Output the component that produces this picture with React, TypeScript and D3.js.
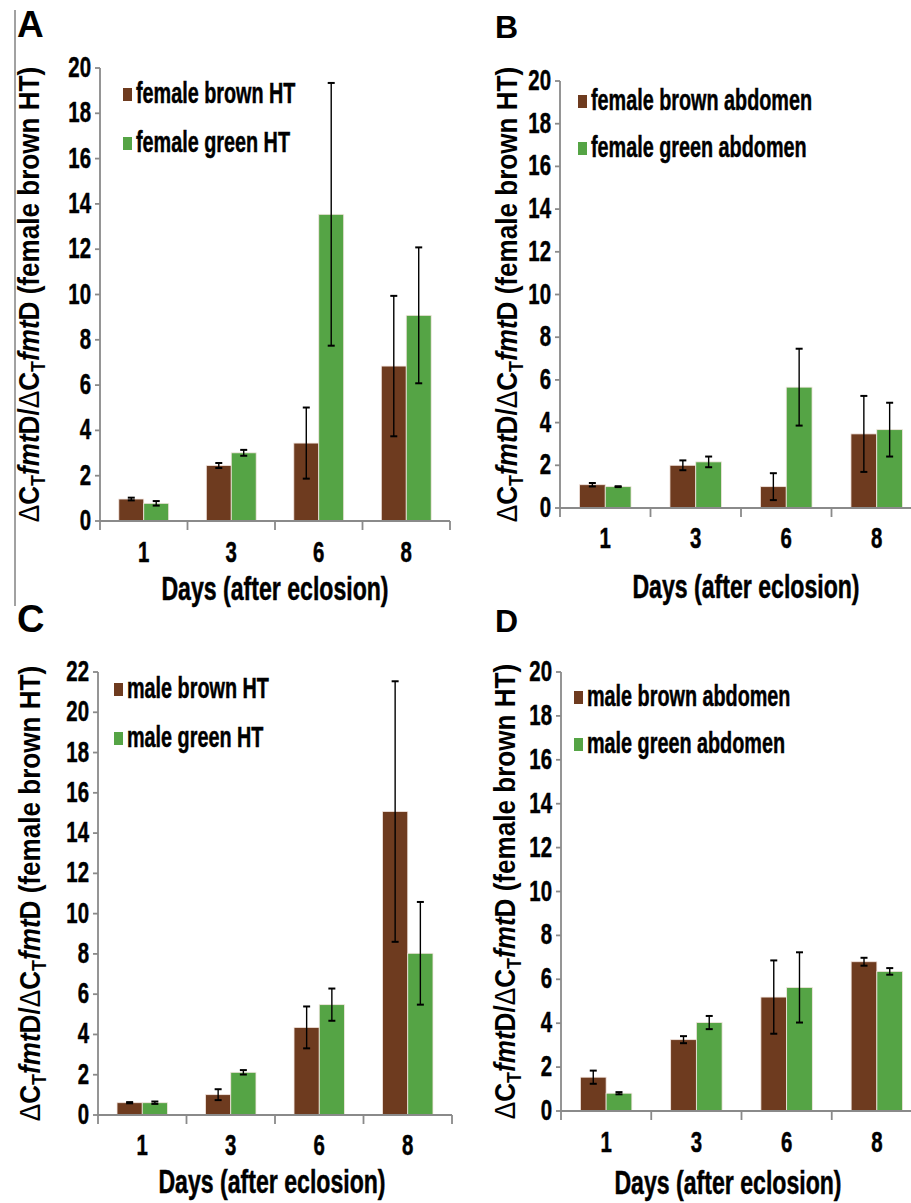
import * as d3 from "d3";

const days = ["1", "3", "6", "8"];
const pair = ["brown", "green"];

// A: female head+thorax
const femaleHtBrown = [0.97, 2.45, 3.44, 6.84];
const femaleHtBrownErr = [0.06, 0.11, 1.57, 3.1];
const femaleHtGreen = [0.78, 3.01, 13.54, 9.08];
const femaleHtGreenErr = [0.1, 0.13, 5.8, 3.0];

// B: female abdomen
const femaleAbBrown = [1.09, 2.0, 1.0, 3.47];
const femaleAbBrownErr = [0.08, 0.23, 0.63, 1.78];
const femaleAbGreen = [1.0, 2.16, 5.66, 3.67];
const femaleAbGreenErr = [0.02, 0.25, 1.8, 1.26];

// C: male head+thorax
const maleHtBrown = [0.61, 1.01, 4.35, 15.07];
const maleHtBrownErr = [0.03, 0.27, 1.04, 6.47];
const maleHtGreen = [0.61, 2.12, 5.48, 8.03];
const maleHtGreenErr = [0.06, 0.11, 0.8, 2.55];

// D: male abdomen
const maleAbBrown = [1.54, 3.25, 5.19, 6.8];
const maleAbBrownErr = [0.3, 0.16, 1.67, 0.18];
const maleAbGreen = [0.81, 4.03, 5.63, 6.36];
const maleAbGreenErr = [0.05, 0.3, 1.6, 0.15];

const BROWN = "#6e3b1f";
const GREEN = "#55a445";
const AXIS = "#8a8a8a";
const FONT = "'Liberation Sans', Arial, Helvetica, sans-serif";

// condensed bold text (the figure uses a narrow bold face)
function NText({ x, y, size, sx, anchor = "start", children }: any) {
  return (
    <text
      transform={`translate(${x},${y}) scale(${sx},1)`}
      fontSize={size}
      fontWeight="bold"
      fontFamily={FONT}
      textAnchor={anchor}
      fill="#000"
      stroke="#000"
      strokeWidth={0.5}
    >
      {children}
    </text>
  );
}

function Panel(p: any) {
  const x = d3.scaleBand().domain(days).range([p.left, p.right]);
  const bw = x.bandwidth();
  const sub = d3.scaleBand().domain(pair).range([bw * 0.215, bw * 0.785]);
  const y = d3.scaleLinear().domain([0, p.yMax]).range([p.bottom, p.top]);
  const yTicks = d3.range(0, p.yMax + 1, 2);
  const series = [
    { key: "brown", color: BROWN, vals: p.brown, errs: p.brownErr, label: p.labels[0] },
    { key: "green", color: GREEN, vals: p.green, errs: p.greenErr, label: p.labels[1] },
  ];
  const bounds = [...days.map((d) => x(d) as number), p.right];

  return (
    <g>
      <text x={p.letterX} y={p.letterY} fontSize={p.letterSize} fontWeight="bold" fontFamily={FONT}>
        {p.letter}
      </text>

      {/* bars */}
      {series.map((s) =>
        days.map((d, i) => {
          const bx = (x(d) as number) + (sub(s.key) as number);
          return (
            <rect
              key={s.key + d}
              x={bx}
              y={y(s.vals[i])}
              width={sub.bandwidth()}
              height={y(0) - y(s.vals[i])}
              fill={s.color}
              stroke="#f3e6e0"
              strokeWidth={0.8}
            />
          );
        })
      )}

      {/* error bars */}
      {series.map((s) =>
        days.map((d, i) => {
          const cx = (x(d) as number) + (sub(s.key) as number) + sub.bandwidth() / 2;
          const hi = y(s.vals[i] + s.errs[i]);
          const lo = y(Math.max(0, s.vals[i] - s.errs[i]));
          return (
            <g key={"e" + s.key + d} stroke="#000">
              <line x1={cx} x2={cx} y1={hi} y2={lo} strokeWidth={1.4} />
              <line x1={cx - 3.5} x2={cx + 3.5} y1={hi} y2={hi} strokeWidth={2} />
              <line x1={cx - 3.5} x2={cx + 3.5} y1={lo} y2={lo} strokeWidth={2} />
            </g>
          );
        })
      )}

      {/* y axis */}
      <line x1={p.left} x2={p.left} y1={y(p.yMax)} y2={y(0)} stroke={AXIS} strokeWidth={1.8} />
      {yTicks.map((t) => (
        <g key={"yt" + t}>
          <line x1={p.left - 5} x2={p.left} y1={y(t)} y2={y(t)} stroke={AXIS} strokeWidth={1.8} />
          <NText x={p.left - 9} y={y(t) + 9} size={30} sx={0.68} anchor="end">
            {t}
          </NText>
        </g>
      ))}

      {/* x axis */}
      <line x1={p.left} x2={p.right} y1={y(0)} y2={y(0)} stroke={AXIS} strokeWidth={1.8} />
      {bounds.map((b, i) => (
        <line key={"xt" + i} x1={b} x2={b} y1={y(0)} y2={y(0) + 9} stroke={AXIS} strokeWidth={1.8} />
      ))}
      {days.map((d) => (
        <NText key={"xl" + d} x={(x(d) as number) + bw / 2} y={p.tickBase} size={30} sx={0.68} anchor="middle">
          {d}
        </NText>
      ))}
      <NText x={p.xLabelX} y={p.xLabelBase} size={33} sx={0.7} anchor="middle">
        Days (after eclosion)
      </NText>

      {/* y title */}
      <text
        transform={`translate(${p.titleX},${(p.top + p.bottom) / 2}) rotate(-90) scale(0.9,1)`}
        textAnchor="middle"
        fontSize={29}
        fontWeight="bold"
        fontFamily={FONT}
      >
        <tspan fontWeight="normal">Δ</tspan>
        <tspan>C</tspan>
        <tspan fontSize={20} dy={6}>T</tspan>
        <tspan dy={-6} fontStyle="italic">fmt</tspan>
        <tspan>D/</tspan>
        <tspan fontWeight="normal">Δ</tspan>
        <tspan>C</tspan>
        <tspan fontSize={20} dy={6}>T</tspan>
        <tspan dy={-6} fontStyle="italic">fmt</tspan>
        <tspan>D (female brown HT)</tspan>
      </text>

      {/* legend */}
      {series.map((s, i) => (
        <g key={"lg" + s.key}>
          <rect x={p.legX} y={p.legBase[i] - 15} width={9} height={13} fill={s.color} />
          <NText x={p.legX + 13} y={p.legBase[i]} size={30} sx={0.66}>
            {s.label}
          </NText>
        </g>
      ))}
    </g>
  );
}

export default function App() {
  return (
    <div>
      <style>{`body{margin:0;background:#fff}`}</style>
      <svg width={911} height={1203} style={{ display: "block" }}>
        <rect width={911} height={1203} fill="#fff" />
        <line x1={15} x2={15} y1={10} y2={606} stroke="#444" strokeWidth={1} />
        <Panel
          letter="A" letterX={17} letterY={37} letterSize={37}
          left={100} right={450} top={68} bottom={521} yMax={20}
          brown={femaleHtBrown} brownErr={femaleHtBrownErr}
          green={femaleHtGreen} greenErr={femaleHtGreenErr}
          labels={["female brown HT", "female green HT"]}
          legX={123} legBase={[103, 152]}
          tickBase={562} xLabelX={275} xLabelBase={600} titleX={39}
        />
        <Panel
          letter="B" letterX={495} letterY={38} letterSize={32}
          left={560} right={922} top={81} bottom={508} yMax={20}
          brown={femaleAbBrown} brownErr={femaleAbBrownErr}
          green={femaleAbGreen} greenErr={femaleAbGreenErr}
          labels={["female brown abdomen", "female green abdomen"]}
          legX={578} legBase={[110, 157]}
          tickBase={548} xLabelX={746} xLabelBase={598} titleX={517}
        />
        <Panel
          letter="C" letterX={17} letterY={632} letterSize={38}
          left={98} right={452} top={672} bottom={1115} yMax={22}
          brown={maleHtBrown} brownErr={maleHtBrownErr}
          green={maleHtGreen} greenErr={maleHtGreenErr}
          labels={["male brown HT", "male green HT"]}
          legX={114} legBase={[698, 747]}
          tickBase={1155} xLabelX={272} xLabelBase={1193} titleX={40}
        />
        <Panel
          letter="D" letterX={495} letterY={632} letterSize={32}
          left={561} right={922} top={672} bottom={1111} yMax={20}
          brown={maleAbBrown} brownErr={maleAbBrownErr}
          green={maleAbGreen} greenErr={maleAbGreenErr}
          labels={["male brown abdomen", "male green abdomen"]}
          legX={574} legBase={[706, 753]}
          tickBase={1152} xLabelX={728} xLabelBase={1194} titleX={515}
        />
      </svg>
    </div>
  );
}
